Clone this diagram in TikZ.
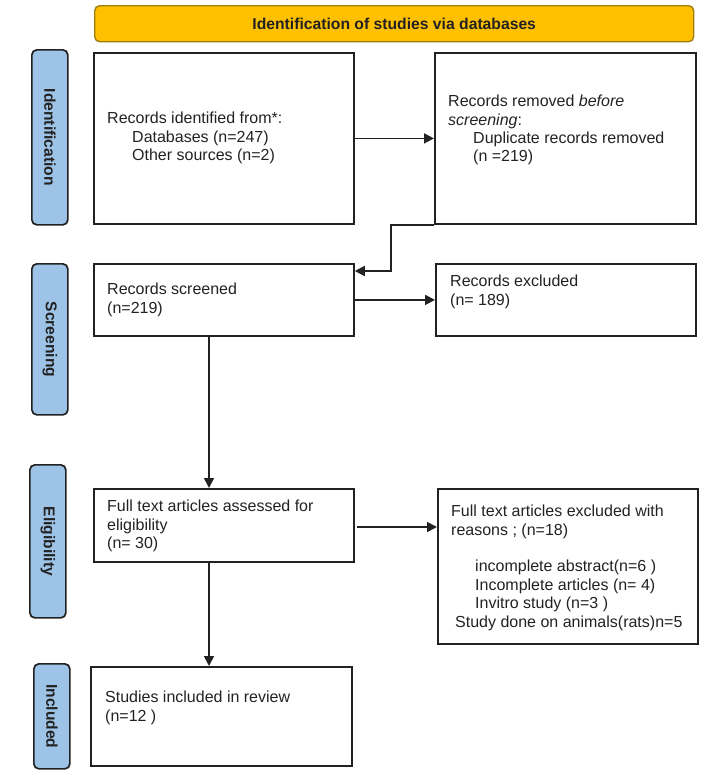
\documentclass[tikz,border=0pt]{standalone}
\usepackage{fontspec}
\setmainfont{Liberation Sans}
\usetikzlibrary{arrows.meta,calc}
\definecolor{gold}{HTML}{FFC000}
\definecolor{goldedge}{HTML}{A07D10}
\definecolor{lblue}{HTML}{9DC3E6}
\definecolor{ink}{HTML}{222222}
\begin{document}
\begin{tikzpicture}[x=1pt,y=-1pt,
  box/.style={draw=ink, line width=1.8pt, inner sep=0pt, anchor=north west},
  lbl/.style={draw=ink, fill=lblue, line width=1.7pt, rounded corners=5pt, inner sep=0pt, anchor=north west},
  banner/.style={draw=goldedge, fill=gold, line width=1.4pt, rounded corners=5pt, inner sep=0pt, anchor=north west},
  txt/.style={anchor=north west, align=left, inner sep=0pt, font=\fontsize{16}{18.4}\selectfont, text=ink},
  ltxt/.style={rotate=-90, inner sep=0pt, font=\bfseries\fontsize{15.6}{18}\selectfont, text=ink},
  arr/.style={draw=ink, line width=1.8pt, -{Triangle[length=10pt,width=10pt]}},
]
\useasboundingbox (0,0) rectangle (716,777);
% banner
\node[banner, minimum width=599pt, minimum height=36pt] (ban) at (94,5) {};
\node[inner sep=0pt, font=\bfseries\fontsize{15.7}{18}\selectfont, text=ink] (bant) at (ban.center) {Identification of studies via databases};
% side labels
\node[lbl, minimum width=36pt, minimum height=175pt] (L1) at (31,49) {};
\node[ltxt] (L1t) at (L1.center) {Identification};
\node[lbl, minimum width=36pt, minimum height=151pt] (L2) at (31,263) {};
\node[ltxt] (L2t) at (L2.center) {Screening};
\node[lbl, minimum width=36pt, minimum height=153pt] (L3) at (29,464) {};
\node[ltxt] (L3t) at (L3.center) {Eligibility};
\node[lbl, minimum width=36pt, minimum height=105pt] (L4) at (33,663) {};
\node[ltxt] (L4t) at (L4.center) {Included};
% boxes
\node[box, minimum width=260pt, minimum height=171pt] (b1) at (93,52) {};
\node[box, minimum width=261pt, minimum height=171pt] (b2) at (434,52) {};
\node[box, minimum width=260pt, minimum height=72pt] (b3) at (93,263) {};
\node[box, minimum width=260pt, minimum height=72pt] (b4) at (435,263) {};
\node[box, minimum width=260pt, minimum height=73pt] (b5) at (93,488) {};
\node[box, minimum width=260pt, minimum height=155pt] (b7) at (437,488) {};
\node[box, minimum width=261pt, minimum height=99pt] (b6) at (90,666) {};
% texts
\node[txt] (t1) at (107,110.6) {\strut Records identified from*:\\\hspace*{25pt}Databases (n=247)\\\hspace*{25pt}Other sources (n=2)};
\node[txt] (t2) at (448,93.6) {\strut Records removed \textit{before}\\\textit{screening}:\\\hspace*{25pt}Duplicate records removed\\\hspace*{25pt}(n =219)};
\node[txt] (t3) at (107,281.6) {\strut Records screened\\(n=219)};
\node[txt] (t4) at (450,273.6) {\strut Records excluded\\(n= 189)};
\node[txt] (t5) at (107,498.6) {\strut Full text articles assessed for\\eligibility\\(n= 30)};
\node[txt] (t7) at (451,503.6) {\strut Full text articles excluded with\\reasons ; (n=18)\\[18.4pt]\hspace*{24pt}incomplete abstract(n=6 )\\\hspace*{24pt}Incomplete articles (n= 4)\\\hspace*{24pt}Invitro study (n=3 )\\\hspace*{4pt}Study done on animals(rats)n=5};
\node[txt] (t6) at (105,689.6) {\strut Studies included in review\\(n=12 )};
% connectors
\coordinate (vx) at (209,0);
\coordinate (e1) at (391,271);
\coordinate (a5) at (357,527);
\draw[arr] (b1.east) -- (b1.east -| b2.west);
\draw[arr] (b2.south west) -| (e1) -- (e1 -| b3.east);
\draw[arr] (b3.east) -- (b3.east -| b4.west);
\draw[arr] (b3.south -| vx) -- (b5.north -| vx);
\draw[arr] (a5) -- (a5 -| b7.west);
\draw[arr] (b5.south -| vx) -- (b6.north -| vx);
\end{tikzpicture}
\end{document}
